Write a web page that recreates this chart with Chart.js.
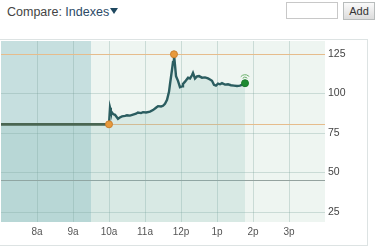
<!DOCTYPE html>
<html lang="en">
<head>
<meta charset="UTF-8">
<title>Compare: Indexes</title>
<script src="https://cdn.jsdelivr.net/npm/chart.js@4"></script>
<style>
    body {
        margin: 0;
        width: 378px;
        height: 247px;
        overflow: hidden;
        background: #fff;
        font-family: "Liberation Sans", Arial, sans-serif;
        position: relative;
    }

    .compare {
        position: absolute;
        left: 7px;
        top: 5px;
        font-size: 12.5px;
        color: #444;
    }

    .compare span {
        color: #2c4a66;
    }

    .tri {
        display: inline-block;
        width: 0;
        height: 0;
        border-left: 4.5px solid transparent;
        border-right: 4.5px solid transparent;
        border-top: 6px solid #1f4860;
        margin-left: 1px;
        vertical-align: 2px;
    }

    .box {
        position: absolute;
        left: 286px;
        top: 2px;
        width: 50px;
        height: 15px;
        border: 1px solid #c8c8c8;
        background: #fff;
    }

    .add {
        position: absolute;
        left: 343px;
        top: 2px;
        width: 30px;
        height: 16px;
        border: 1px solid #b8bcbc;
        background: linear-gradient(#fafafa, #dcdcdc);
        font-size: 11px;
        color: #333;
        text-align: center;
        line-height: 16px;
    }

    .panel {
        position: absolute;
        left: 0;
        top: 39px;
        width: 367px;
        height: 205px;
        border: 1px solid #dde3e3;
        border-left: none;
    }

    #chart {
        position: absolute;
        left: 0;
        top: 0;
    }
</style>
</head>
<body>
    <div class="compare">Compare: <span>Indexes</span><i class="tri"></i></div>
    <div class="box"></div>
    <div class="add">Add</div>
    <div class="panel"></div>
    <canvas id="chart" width="378" height="247"></canvas>

<script>
    // time in minutes since midnight
    const times = [420, 600, 601.7, 603, 606.7, 610, 615, 618, 621.7, 626.7, 630, 635, 640, 645, 648.3,
        653.3, 656.7, 661.7, 668.3, 673.3, 678.3, 681.7, 686.7, 690, 693.3, 696.7, 700, 701.7, 705,
        706.7, 708.3, 710, 711.7, 715, 718.3, 721.7, 723.3, 726.7, 731.7, 735, 738.3, 740, 743.3,
        746.7, 750, 755, 760, 765, 768.3, 771.7, 775, 778.3, 781.7, 785, 788.3, 793.3, 798.3, 803.3,
        808.3, 813.3, 818.3, 823.3, 826.7];
    const values = [80.5, 80.5, 91, 89, 87, 86.5, 84, 84.8, 85.5, 85.8, 86.2, 86, 86.6, 87.2, 88,
        87.6, 88.2, 88, 88.5, 89.5, 91, 92, 91.8, 92.2, 93.5, 96, 101, 106, 115,
        120, 124.8, 118, 111, 108, 104, 104.5, 106, 107.5, 110, 109.5, 111.5, 113, 109.5,
        110.8, 111, 110, 110.2, 109.5, 108.8, 108, 105.5, 105, 106.2, 105.8, 106.5, 105.6, 105.8, 105.2,
        105, 104.7, 105, 105.8, 106.5];

    const tickTimes = [480, 540, 600, 660, 720, 780, 840, 900];
    const tickLabels = ['8a', '9a', '10a', '11a', '12p', '1p', '2p', '3p'];
    const yTicks = [25, 50, 75, 100, 125];

    const dayStart = 420, dayEnd = 960, preMarketEnd = 570;
    const highValue = 124.8, lowValue = 80.5, refValue = 45;
    const lowIndex = 1, highIndex = 30, lastIndex = values.length - 1;

    const points = times.map((t, i) => ({ x: t, y: values[i] }));

    const backdrop = {
        id: 'backdrop',
        beforeDraw(chart) {
            const { ctx, chartArea: a, scales: { x } } = chart;
            ctx.save();
            ctx.fillStyle = '#eef5f1';
            ctx.fillRect(a.left, a.top, a.width, a.height);
            const xe = x.getPixelForValue(preMarketEnd);
            ctx.fillStyle = '#c6dfdf';
            ctx.fillRect(a.left, a.top, xe - a.left, a.height);
            ctx.restore();
        },
        beforeDatasetsDraw(chart) {
            const { ctx, chartArea: a, scales: { y } } = chart;
            ctx.save();
            ctx.lineWidth = 1;
            ctx.strokeStyle = '#e6bc8c';
            [highValue, lowValue].forEach(v => {
                const py = Math.round(y.getPixelForValue(v)) + 0.5;
                ctx.beginPath();
                ctx.moveTo(a.left, py);
                ctx.lineTo(a.right, py);
                ctx.stroke();
            });
            ctx.strokeStyle = '#94a29f';
            const py = Math.round(y.getPixelForValue(refValue)) + 0.5;
            ctx.beginPath();
            ctx.moveTo(a.left, py);
            ctx.lineTo(a.right, py);
            ctx.stroke();
            ctx.restore();
        },
        afterDatasetsDraw(chart) {
            const { ctx } = chart;
            const pt = chart.getDatasetMeta(0).data[lastIndex];
            ctx.save();
            ctx.strokeStyle = '#6ab06a';
            ctx.lineWidth = 1;
            [3, 5.5].forEach(r => {
                ctx.beginPath();
                ctx.arc(pt.x, pt.y - 3, r, -0.78 * Math.PI, -0.22 * Math.PI);
                ctx.stroke();
            });
            ctx.restore();
        }
    };

    const ctx = document.getElementById('chart').getContext('2d');
    const chart = new Chart(ctx, {
        type: 'line',
        data: {
            datasets: [{
                data: points,
                borderColor: '#2b5d60',
                borderWidth: 2.4,
                backgroundColor: 'rgba(130,185,180,0.2)',
                fill: 'start',
                tension: 0,
                segment: {
                    borderColor: c => c.p1DataIndex <= lowIndex ? '#4a6652' : undefined,
                    borderWidth: c => c.p1DataIndex <= lowIndex ? 2.8 : undefined
                },
                pointRadius: values.map((v, i) => (i === lowIndex || i === highIndex || i === lastIndex) ? 3.5 : 0),
                pointBackgroundColor: values.map((v, i) => i === lastIndex ? '#1e8a32' : '#e89a3c'),
                pointBorderColor: values.map((v, i) => i === lastIndex ? '#1a7a2c' : '#c98030'),
                pointBorderWidth: 1
            }]
        },
        options: {
            responsive: false,
            animation: false,
            events: [],
            layout: { autoPadding: false, padding: { left: 1, top: 41, right: 0, bottom: 0 } },
            plugins: { legend: { display: false }, tooltip: { enabled: false } },
            scales: {
                x: {
                    type: 'linear',
                    min: dayStart,
                    max: dayEnd,
                    afterBuildTicks: s => { s.ticks = tickTimes.map(v => ({ value: v })); },
                    afterFit: s => { s.height = 25; },
                    grid: { color: 'rgba(110,150,145,0.28)', drawTicks: false },
                    border: { display: false },
                    ticks: {
                        padding: 4,
                        color: '#555',
                        font: { family: 'Liberation Sans', size: 10 },
                        maxRotation: 0,
                        callback: v => tickLabels[tickTimes.indexOf(v)]
                    }
                },
                y: {
                    position: 'right',
                    min: 18.7,
                    max: 133.2,
                    afterBuildTicks: s => { s.ticks = yTicks.map(v => ({ value: v })); },
                    afterFit: s => { s.width = 53; },
                    grid: {
                        color: c => c.tick && c.tick.value === 125 ? 'rgba(0,0,0,0)' : 'rgba(110,150,145,0.28)',
                        drawTicks: false
                    },
                    border: { display: false },
                    ticks: {
                        padding: 3,
                        color: '#444',
                        font: { family: 'Liberation Sans', size: 10.5 }
                    }
                }
            }
        },
        plugins: [backdrop]
    });
</script>
</body>
</html>
